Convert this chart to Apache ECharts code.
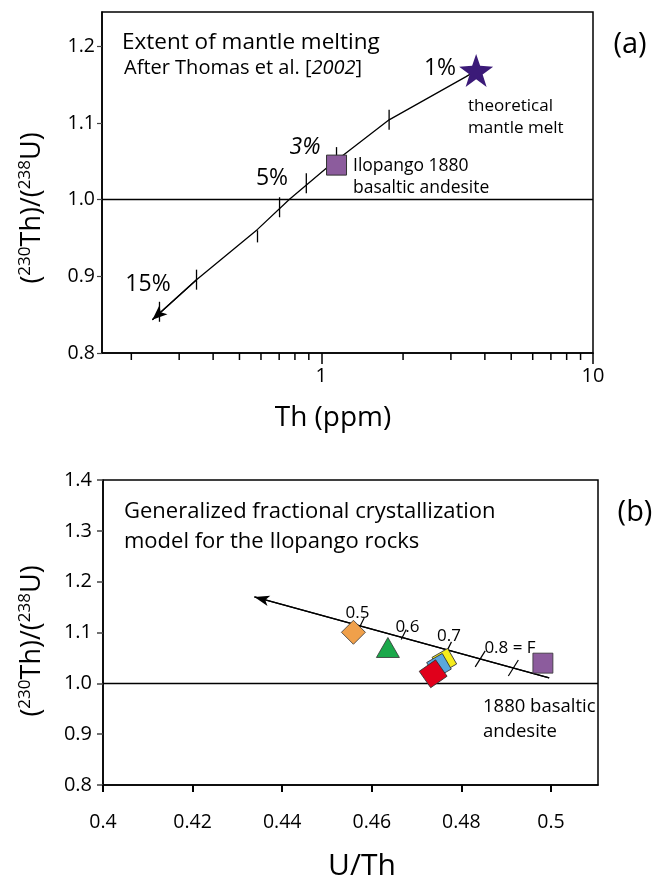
<!DOCTYPE html>
<html>
<head>
<meta charset="utf-8">
<script src="https://cdn.jsdelivr.net/npm/echarts/dist/echarts.min.js"></script>
<style>
html,body{margin:0;padding:0;background:#fff;}
#c{width:655px;height:880px;}
</style>
</head>
<body>
<div id="c"></div>
<script>
// ---------- Panel (a): extent of mantle melting ----------
const curveTh    = [0.239, 0.3475, 0.5826, 0.7641, 1.046, 1.777, 3.399, 3.715];
const curveRatio = [0.8433, 0.8957, 0.9613, 1.0007, 1.0413, 1.1043, 1.1603, 1.1685];
const meltPct    = [15, 10, 7, 5, 4, 3, 2];
const meltTh     = [0.2539, 0.3475, 0.5826, 0.7023, 0.881, 1.138, 1.777];
const meltRatio  = [0.8538, 0.8957, 0.9600, 0.9902, 1.0216, 1.0452, 1.1043];
const ilopangoA  = [1.138, 1.0452];      // Th (ppm), (230Th)/(238U)
const mantleMelt = [3.715, 1.1685];
const xMinorTicksA = [0.2, 0.3, 0.4, 0.5, 0.6, 0.7, 0.8, 0.9, 2, 3, 4, 5, 6, 7, 8, 9];
const yTicksA = [0.8, 0.9, 1.0, 1.1, 1.2];

// ---------- Panel (b): fractional crystallization ----------
const fcLineUTh   = [0.4996, 0.4338];
const fcLineRatio = [1.0109, 1.1700];
const fcF         = [0.5, 0.6, 0.7, 0.8, 0.9];
const fcTickUTh   = [0.4574, 0.4668, 0.4769, 0.4842, 0.4916];
const fcTickRatio = [1.1129, 1.0902, 1.0658, 1.0481, 1.0302];
const sampleUTh   = [0.4559, 0.4636, 0.4762, 0.4750, 0.4737, 0.4982];
const sampleRatio = [1.1004, 1.0705, 1.0445, 1.0345, 1.0188, 1.0397];
const xTicksB = [0.4, 0.42, 0.44, 0.46, 0.48, 0.5];
const yTicksB = [0.8, 0.9, 1.0, 1.1, 1.2, 1.3, 1.4];

// styles (kept apart from the data)
const sampleSymbol = ['diamond', 'triangle', 'rect', 'rect', 'rect', 'rect'];
const sampleSize   = [[24, 24], [23, 20], [18, 18], [18, 18], [20, 20], [20, 20]];
const sampleRotate = [0, 0, 30, 30, 35, 0];
const sampleColor  = ['#f0a04a', '#1ba84b', '#f6ec1c', '#5aa7de', '#e0001b', '#8c5c9d'];

const FONT = '"Open Sans", "Noto Sans", sans-serif';
const LAB = '"Open Sans", sans-serif';

const chart = echarts.init(document.getElementById('c'), null, {renderer: 'canvas'});

function txt(x, y, text, size, opts) {
  opts = opts || {};
  return {
    type: 'text', x: x, y: y, rotation: opts.rotation || 0, z: 100,
    style: Object.assign({
      text: text, fontSize: size, fontFamily: FONT, fill: '#000',
      align: opts.align || 'left', verticalAlign: 'middle',
      fontStyle: opts.italic ? 'italic' : 'normal'
    }, opts.rich ? {rich: opts.rich} : {})
  };
}

const starPath = 'path://M50,0 L61.8,35.1 L100,38.2 L69.1,61.8 L80.9,100 L50,76.4 L19.1,100 L30.9,61.8 L0,38.2 L38.2,35.1 Z';

const yNameRich = {
  n: {fontSize: 27, fontFamily: FONT, fill: '#000'},
  s: {fontSize: 17, fontFamily: FONT, fill: '#000', padding: [0, 0, 13, 0]}
};

const option = {
  backgroundColor: '#fff',
  animation: false,
  grid: [
    {left: 102, top: 12, width: 491, height: 341, show: true, borderColor: '#000', borderWidth: 1.5, backgroundColor: 'transparent', containLabel: false, outerBoundsMode: 'none'},
    {left: 103, top: 480, width: 495, height: 305, show: true, borderColor: '#000', borderWidth: 1.5, backgroundColor: 'transparent', containLabel: false, outerBoundsMode: 'none'}
  ],
  xAxis: [
    {
      type: 'log', gridIndex: 0, min: 0.156, max: 10, logBase: 10,
      axisLine: {show: true, lineStyle: {color: '#000', width: 1.5}},
      axisTick: {show: true, length: 11, lineStyle: {color: '#000', width: 1.5}},
      axisLabel: {fontSize: 20, color: '#000', fontFamily: FONT, margin: 13, showMinLabel: false,
        formatter: v => String(+v.toPrecision(3))},
      splitLine: {show: false}, minorTick: {show: false}
    },
    {
      type: 'value', gridIndex: 1, min: 0.4, max: 0.5105, interval: 0.02,
      axisLine: {show: true, lineStyle: {color: '#000', width: 1.5}},
      axisTick: {show: true, length: 7, lineStyle: {color: '#000', width: 2}},
      axisLabel: {fontSize: 19.5, color: '#000', fontFamily: LAB, margin: 27, showMaxLabel: false,
        formatter: v => String(+v.toFixed(2))},
      splitLine: {show: false}
    }
  ],
  yAxis: [
    {
      type: 'value', gridIndex: 0, min: 0.8, max: 1.245, interval: 0.1,
      axisLine: {show: true, lineStyle: {color: '#000', width: 1.5}},
      axisTick: {show: true, length: 5, lineStyle: {color: '#444', width: 1.2}},
      axisLabel: {fontSize: 19.5, color: '#000', fontFamily: FONT, margin: 7, showMaxLabel: false,
        formatter: v => v.toFixed(1)},
      splitLine: {show: false}
    },
    {
      type: 'value', gridIndex: 1, min: 0.8, max: 1.4, interval: 0.1,
      axisLine: {show: true, lineStyle: {color: '#000', width: 1.5}},
      axisTick: {show: true, length: 6, lineStyle: {color: '#444', width: 1.5}},
      axisLabel: {fontSize: 20, color: '#000', fontFamily: LAB, margin: 11,
        formatter: v => v.toFixed(1)},
      splitLine: {show: false}
    }
  ],
  series: [
    // (a) melting curve with arrow and the equilibrium line
    {
      type: 'line', xAxisIndex: 0, yAxisIndex: 0, z: 2, silent: true,
      data: curveTh.map((t, i) => [t, curveRatio[i]]),
      symbol: 'none', lineStyle: {color: '#000', width: 1.3},
      markLine: {
        silent: true, symbol: ['none', 'none'], label: {show: false},
        lineStyle: {color: '#000', width: 1.3, type: 'solid'}, emphasis: {disabled: true},
        data: [
          {yAxis: 1.0},
          [{coord: [curveTh[1], curveRatio[1]], symbol: 'none'},
           {coord: [curveTh[0], curveRatio[0]], symbol: 'arrow', symbolSize: [9, 15]}]
        ]
      }
    },
    // (a) melt-percentage ticks along the curve
    {
      type: 'custom', xAxisIndex: 0, yAxisIndex: 0, z: 2, silent: true,
      data: meltTh.map((t, i) => [t, meltRatio[i], meltPct[i]]),
      renderItem: function (params, api) {
        const p = api.coord([api.value(0), api.value(1)]);
        const pct = api.value(2);
        let y1 = p[1] - 10, y2 = p[1] + 10;
        if (pct === 7) { y1 = p[1]; y2 = p[1] + 12; }
        if (pct === 3) { y1 = p[1] - 18; y2 = p[1]; }
        return {type: 'line', shape: {x1: p[0], y1: y1, x2: p[0], y2: y2},
          style: {stroke: '#000', lineWidth: 1.3}};
      }
    },
    // (a) minor log ticks on the x axis
    {
      type: 'custom', xAxisIndex: 0, yAxisIndex: 0, z: 2, silent: true, clip: false,
      data: xMinorTicksA.map(v => [v, 0.8]),
      renderItem: function (params, api) {
        const p = api.coord([api.value(0), api.value(1)]);
        return {type: 'line', shape: {x1: p[0], y1: p[1], x2: p[0], y2: p[1] + 7},
          style: {stroke: '#000', lineWidth: 1.5}};
      }
    },
    // (a) Ilopango 1880 basaltic andesite
    {
      type: 'scatter', xAxisIndex: 0, yAxisIndex: 0, z: 5, silent: true,
      data: [ilopangoA], symbol: 'rect', symbolSize: [20, 20],
      itemStyle: {color: '#8c5c9d', borderColor: '#333', borderWidth: 1, opacity: 1}
    },
    // (a) theoretical mantle melt
    {
      type: 'scatter', xAxisIndex: 0, yAxisIndex: 0, z: 5, silent: true,
      data: [mantleMelt], symbol: starPath, symbolSize: [34, 33],
      itemStyle: {color: '#3b1a78', opacity: 1}
    },
    // (b) fractional crystallization trend
    {
      type: 'line', xAxisIndex: 1, yAxisIndex: 1, z: 2, silent: true,
      data: fcLineUTh.map((u, i) => [u, fcLineRatio[i]]),
      symbol: 'none', lineStyle: {color: '#000', width: 1.3},
      markLine: {
        silent: true, symbol: ['none', 'none'], label: {show: false},
        lineStyle: {color: '#000', width: 1.3, type: 'solid'}, emphasis: {disabled: true},
        data: [
          {yAxis: 1.0},
          [{coord: [fcLineUTh[0], fcLineRatio[0]], symbol: 'none'},
           {coord: [fcLineUTh[1], fcLineRatio[1]], symbol: 'arrow', symbolSize: [8, 15]}]
        ]
      }
    },
    // (b) F ticks
    {
      type: 'custom', xAxisIndex: 1, yAxisIndex: 1, z: 2, silent: true,
      data: fcTickUTh.map((u, i) => [u, fcTickRatio[i], fcF[i]]),
      renderItem: function (params, api) {
        const p = api.coord([api.value(0), api.value(1)]);
        const f = api.value(2);
        const big = f >= 0.8;
        const dx = big ? 5 : 4, dyUp = 8, dyDn = big ? 8 : 2;
        return {type: 'line', shape: {x1: p[0] - dx * dyDn / 8, y1: p[1] + dyDn, x2: p[0] + dx, y2: p[1] - dyUp},
          style: {stroke: '#000', lineWidth: 1.2}};
      }
    },
    // (b) samples
    {
      type: 'scatter', xAxisIndex: 1, yAxisIndex: 1, z: 5, silent: true,
      data: sampleUTh.map((u, i) => ({
        value: [u, sampleRatio[i]],
        symbol: sampleSymbol[i], symbolSize: sampleSize[i], symbolRotate: sampleRotate[i],
        itemStyle: {color: sampleColor[i], borderColor: '#333', borderWidth: 0.8, opacity: 1}
      }))
    }
  ],
  graphic: [
    // panel (a) texts
    txt(122, 43, 'Extent of mantle melting', 22.5),
    txt(124, 68, '{n|After Thomas et al. [}{i|2002}{n|]}', 20, {rich: {
      n: {fontSize: 20, fontFamily: FONT, fill: '#000'},
      i: {fontSize: 20, fontFamily: FONT, fill: '#000', fontStyle: 'italic'}}}),
    txt(440, 68, '1%', 23, {align: 'center'}),
    txt(468, 106, 'theoretical', 17),
    txt(468, 128, 'mantle melt', 17),
    txt(353, 166, 'Ilopango 1880', 17.5),
    txt(353, 188, 'basaltic andesite', 17.5),
    txt(305, 147, '3%', 23, {align: 'center', italic: true}),
    txt(272, 178, '5%', 23, {align: 'center'}),
    txt(148, 284, '15%', 23, {align: 'center'}),
    txt(630, 45, '(a)', 29, {align: 'center'}),
    txt(333, 418, 'Th (ppm)', 28, {align: 'center'}),
    txt(32, 208, '{n|(}{s|230}{n|Th)/(}{s|238}{n|U)}', 27, {align: 'center', rotation: Math.PI / 2, rich: yNameRich}),
    // panel (b) texts
    txt(124, 512, 'Generalized fractional crystallization', 22),
    txt(124, 542, 'model for the Ilopango rocks', 22),
    txt(357.5, 613, '0.5', 17, {align: 'center'}),
    txt(407.5, 627, '0.6', 17, {align: 'center'}),
    txt(449, 636, '0.7', 17, {align: 'center'}),
    txt(510, 648, '0.8 = F', 17, {align: 'center'}),
    txt(483, 707, '1880 basaltic', 18.5),
    txt(483, 732, 'andesite', 18.5),
    txt(635, 513, '(b)', 29, {align: 'center'}),
    txt(362, 866, 'U/Th', 30, {align: 'center'}),
    txt(32, 641, '{n|(}{s|230}{n|Th)/(}{s|238}{n|U)}', 27, {align: 'center', rotation: Math.PI / 2, rich: yNameRich})
  ]
};
chart.setOption(option);
</script>
</body>
</html>
